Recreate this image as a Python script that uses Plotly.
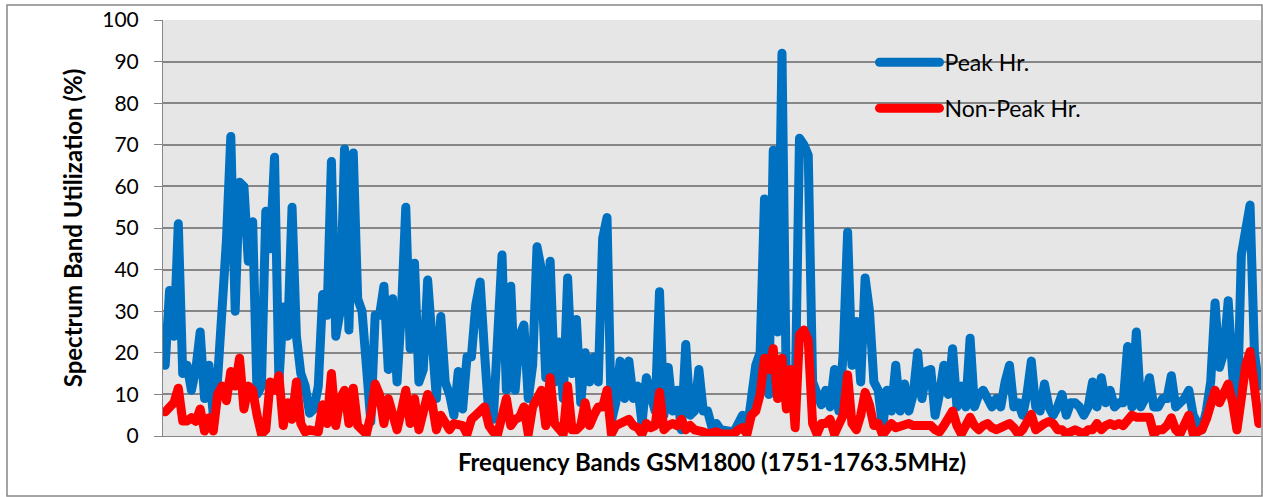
import plotly.graph_objects as go

# Frequency-band index (251 bands across 1751-1763.5 MHz)
bands = list(range(251))

peak_hr = [
    17, 35, 24, 51, 15, 17, 11, 16, 25, 9,
    17, 5, 14, 30, 47, 72, 30, 61, 60, 42,
    51.5, 10, 12, 54, 45, 67, 13, 31, 24, 55,
    24, 15, 12, 5.5, 6.5, 12, 34, 29, 66, 24,
    30, 69, 25.5, 68, 33, 30, 14, 3.5, 29, 29,
    36, 16, 33, 13, 30, 55, 21, 41.5, 13, 16,
    37.5, 25, 9, 28.7, 13, 10, 5, 15.5, 6.5, 19,
    19, 31.5, 37, 20, 5, 4, 20, 43.5, 11, 36,
    11, 24, 26.7, 9, 17, 45.5, 40, 14, 42, 13,
    22.6, 9, 38, 15, 28, 8, 20, 13, 19, 13,
    47.5, 52.5, 3.5, 8, 18, 9, 18, 9, 12, 3,
    14, 10, 6, 34.7, 5, 16.5, 6, 11, 1.5, 22,
    5, 6, 16, 6, 6, 2, 3, 1.5, 1.2, 1.2,
    1, 3, 5, 1, 10, 17, 20, 57, 10, 68.7,
    25, 92, 10, 12, 8, 71.6, 70, 67.5, 13, 10,
    7.5, 11, 7, 16, 6, 20, 49, 17, 27.5, 13,
    38, 30, 13, 11, 2, 11, 6, 17, 6, 12.5,
    6, 10, 20, 9, 15.6, 16, 5, 10, 17, 10,
    21, 7, 12, 7, 23.5, 7, 10, 11, 9, 7,
    9, 7, 13, 17, 7, 8, 5, 10, 18, 7,
    6, 12.5, 7, 5, 7, 10, 5, 8, 8, 7,
    5, 7, 13, 7, 14, 8, 11, 7, 8, 8,
    21.5, 7, 25, 7, 9, 14, 7, 7, 9, 9,
    14.5, 7, 8, 9, 11, 5, 3, 1.5, 6, 13,
    32, 16.5, 20, 32.5, 15, 3, 43.5, 50, 55.5, 20,
    12,
]

non_peak_hr = [
    5.8, 7, 8, 11.5, 3.6, 3.6, 4.4, 3.5, 6.5, 1.2,
    4.4, 1.2, 10, 12, 8.5, 15.5, 12, 18.7, 6.5, 12,
    11, 5, 0.5, 1.5, 13, 11, 14.5, 2.5, 8, 4,
    13, 3, 1, 1.5, 1.5, 1, 7.5, 3, 15, 2.5,
    9, 11, 3, 11.5, 2.5, 1.5, 0.5, 5, 12.5, 10,
    3, 9, 5, 1.5, 6, 11, 3, 9, 1.5, 5,
    10, 8, 1.5, 5, 3, 1.5, 3, 3, 2.5, 0.5,
    4, 5, 6, 7, 2.5, 1, 0.5, 5, 9, 2.5,
    4, 4.5, 7, 0.5, 7, 9, 11, 2.5, 14, 3,
    1.5, 0.5, 12, 1.5, 1.5, 2.5, 8, 2.5, 5, 7,
    7, 11, 0.5, 2.5, 3, 3.5, 4, 2.5, 2, 0.5,
    3, 2, 2.5, 10.5, 1.5, 2.5, 3, 2.5, 4, 1.5,
    2.5, 1.5, 1.5, 1, 0.5, 1, 1, 0.5, 0.5, 0.5,
    0.5, 1.5, 2, 0.5, 5, 6, 10, 18.7, 16, 21,
    9, 18.7, 6.5, 16, 2, 24.3, 25.5, 23, 3, 0.5,
    3, 3, 4, 0.5, 3, 5, 14.7, 3, 1.5, 5,
    10.5, 7.5, 2.5, 3, 0.3, 1.5, 3, 2, 2.5, 3,
    3, 2.5, 2.5, 3, 3, 2.5, 1.5, 1, 2.5, 4,
    6, 2.5, 0.5, 2.5, 4.5, 2.5, 1.5, 2.5, 3, 2,
    1.5, 2, 2.5, 3, 2, 0.5, 1.5, 3, 5.2, 1.5,
    2.5, 3, 3.5, 3, 1.5, 1.5, 0.5, 1, 1.5, 1,
    0.5, 1.5, 1.5, 3, 1.5, 2.5, 3, 2.5, 3, 2.5,
    4, 5, 4.5, 4.5, 4.5, 4.5, 0.5, 1.5, 1.5, 2.5,
    4.4, 1.5, 0.5, 2.5, 5, 0.5, 1, 1.5, 4, 8,
    11, 8, 10, 12.5, 8, 1.5, 9, 17, 20.3, 10,
    3,
]

y_ticks = [0, 10, 20, 30, 40, 50, 60, 70, 80, 90, 100]

series_names = ["Peak Hr.", "Non-Peak Hr."]
series_colors = ["#0070C0", "#FF0000"]

FONT = "Lato, 'Open Sans', sans-serif"

fig = go.Figure()
for name, vals, col in zip(series_names, [peak_hr, non_peak_hr], series_colors):
    fig.add_trace(go.Scatter(
        x=bands, y=vals, mode="lines", name=name, legendgroup=name,
        line=dict(color=col, width=9),
        hoverinfo="skip",
    ))

fig.update_layout(
    width=1263, height=497,
    margin=dict(l=163, r=2, t=20, b=61),
    paper_bgcolor="white",
    plot_bgcolor="#E6E6E6",
    font=dict(family=FONT, size=20, color="black"),
    showlegend=True,
    legend=dict(
        x=0.648, y=0.95, xanchor="left", yanchor="top",
        bgcolor="rgba(0,0,0,0)", borderwidth=0,
        font=dict(family=FONT, size=23, color="black"),
        itemwidth=60, tracegroupgap=13, traceorder="grouped",
    ),
    xaxis=dict(
        range=[-0.5, len(bands) - 0.5],
        showticklabels=False, ticks="", showgrid=False, zeroline=False,
        showline=True, linecolor="#868686", linewidth=1,
        title=dict(text="<b>Frequency Bands GSM1800 (1751-1763.5MHz)</b>",
                   font=dict(family=FONT, size=24, color="black"), standoff=18),
    ),
    yaxis=dict(
        range=[0, 100], tickvals=y_ticks,
        ticks="outside", ticklen=8, tickcolor="#868686", tickwidth=1,
        showgrid=True, gridcolor="#868686", gridwidth=1.5,
        zeroline=False, showline=True, linecolor="#868686", linewidth=1,
        tickfont=dict(family=FONT, size=21, color="black"),
        ticklabelstandoff=11,
        title=dict(text="<b>Spectrum Band Utilization (%)</b>",
                   font=dict(family=FONT, size=24, color="black"), standoff=12),
    ),
    shapes=[dict(
        type="rect", xref="paper", yref="paper",
        x0=(7 - 163) / 1098, x1=(1262 - 163) / 1098,
        y0=(436 - 496) / 416, y1=(436 - 5) / 416,
        line=dict(color="#868686", width=1.5), fillcolor="rgba(0,0,0,0)",
        layer="below",
    )],
)

fig.write_html("out.html", config={"displayModeBar": False}, post_script="""
document.body.style.margin='0';
var st=document.createElement('style');
st.textContent='.js-line{stroke-linejoin:round !important;stroke-linecap:round !important;}';
document.head.appendChild(st);
""")
